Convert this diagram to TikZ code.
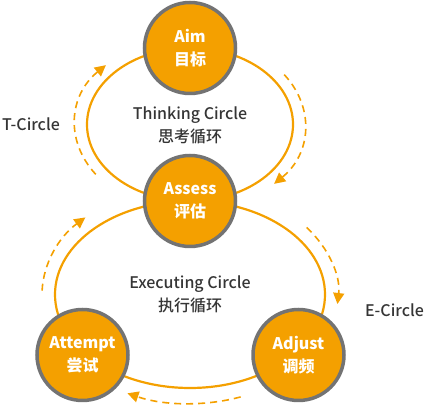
\documentclass[tikz,border=0pt]{standalone}
\usepackage{fontspec}
\setmainfont{Noto Sans CJK SC}
\newfontfamily\labelfont{Noto Sans CJK SC Medium}
\usetikzlibrary{arrows.meta}
\definecolor{LoopOrange}{HTML}{F4A000}
\definecolor{LoopGray}{HTML}{737373}
\definecolor{LoopText}{HTML}{353535}
\tikzset{
  stepnode/.style={circle,fill=LoopOrange,draw=LoopGray,line width=3.5pt,minimum size=91pt,inner sep=0pt,
    align=center,text=white,font=\fontsize{16}{23}\selectfont\bfseries},
  loopline/.style={LoopOrange,line width=2.2pt},
  looparrow/.style={LoopOrange,line width=1.6pt,dash pattern=on 7pt off 5pt,-{Triangle[length=11pt,width=11pt]}},
  looplabel/.style={text=LoopText,align=center,font=\fontsize{16}{23}\selectfont\labelfont}
}
\begin{document}
\begin{tikzpicture}[x=1pt,y=1pt]
\path[use as bounding box] (0,0) rectangle (426,406);
\coordinate (tc) at (190,281.5);
\coordinate (ec) at (190,111.5);
\draw[loopline] (tc) ellipse[x radius=103,y radius=76.5];
\draw[loopline] (ec) ellipse[x radius=135,y radius=93.5];
\draw[looparrow] ([shift={(215:115 and 87)}]tc) arc[start angle=215,end angle=137,x radius=115,y radius=87];
\draw[looparrow] ([shift={(35:115 and 87)}]tc) arc[start angle=35,end angle=-43,x radius=115,y radius=87];
\draw[looparrow] ([shift={(178:148 and 109)}]ec) arc[start angle=178,end angle=135,x radius=148,y radius=109];
\draw[looparrow] ([shift={(38:148 and 109)}]ec) arc[start angle=38,end angle=-5,x radius=148,y radius=109];
\draw[looparrow] ([shift={(-70:148 and 109)}]ec) arc[start angle=-70,end angle=-115,x radius=148,y radius=109];
\node[stepnode] (aim) at (190,358) {Aim\\目标};
\node[stepnode] (assess) at (190,205) {Assess\\评估};
\node[stepnode] (attempt) at (82.5,51) {Attempt\\尝试};
\node[stepnode] (adjust) at (298.5,51) {Adjust\\调频};
\node[looplabel] (thinking) at (190,281) {Thinking Circle\\思考循环};
\node[looplabel] (executing) at (190,111.5) {Executing Circle\\执行循环};
\node[looplabel] (tcircle) at (31,282) {T-Circle};
\node[looplabel] (ecircle) at (394.5,96) {E-Circle};
\end{tikzpicture}
\end{document}
